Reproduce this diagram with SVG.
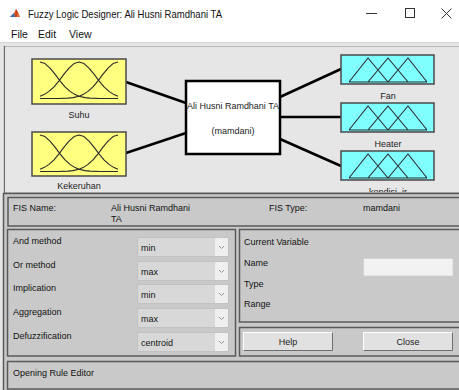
<svg xmlns="http://www.w3.org/2000/svg" width="459" height="390" viewBox="0 0 459 390">
  <style>
    .ui { font-family: "Liberation Sans", Arial, sans-serif; font-size: 9px; fill: #111; }
    .title { font-family: "Liberation Sans", Arial, sans-serif; font-size: 11px; fill: #111; }
    .menu { font-family: "Liberation Sans", Arial, sans-serif; font-size: 10.5px; fill: #111; }
    .lbl { font-family: "Liberation Sans", Arial, sans-serif; font-size: 9px; fill: #222; text-anchor: middle; }
    .inbox { fill: #ffff80; stroke: #4a4a4a; stroke-width: 1.5; }
    .outbox { fill: #80ffff; stroke: #4a4a4a; stroke-width: 1.5; }
    .mf { fill: none; stroke: #2a2a2a; stroke-width: 1.1; stroke-linejoin: round; }
    .wire { stroke: #000; stroke-width: 2.5; fill: none; }
    .frame { fill: none; stroke: #5a5a5a; stroke-width: 1.5; }
    .drop { fill: #d8d8d8; stroke: #c2c2c2; stroke-width: 1; }
    .dropbtn { fill: #efefef; }
    .chev { fill: none; stroke: #8a8a8a; stroke-width: 0.9; }
    .btn { fill: #e1e1e1; }
  </style>
  <defs>
    <!-- three gaussian membership functions on the range 40..118 -->
    <g id="gauss" class="mf">
      <polyline points="40,62 45,63.6 50,68.1 55,74.2 60,80.8 65,86.8 70,91.4 75,94.6 79,96.2 85,97.6 90,98.1 100,98.5 118,98.5"/>
      <polyline points="40,96.2 44,94.6 49,91.4 54,86.8 59,80.8 64,74.2 69,68.1 74,63.6 79,62 84,63.6 89,68.1 94,74.2 99,80.8 104,86.8 109,91.4 114,94.6 118,96.2"/>
      <polyline points="118,62 113,63.6 108,68.1 103,74.2 98,80.8 93,86.8 88,91.4 83,94.6 79,96.2 73,97.6 68,98.1 58,98.5 40,98.5"/>
    </g>
    <!-- three triangular membership functions -->
    <g id="tri" class="mf">
      <path d="M349,82 L368,58 L388,82 M368,82 L388,58 L408,82 M388,82 L408,58 L427,82 M349,82 H427"/>
    </g>
    <clipPath id="plotClip">
      <rect x="5" y="47" width="454" height="145"/>
    </clipPath>
  </defs>

  <!-- window background -->
  <rect x="0" y="0" width="459" height="390" fill="#ffffff"/>
  <rect x="0" y="42" width="459" height="348" fill="#e6e6e6"/>
  <line x1="0" y1="42.5" x2="459" y2="42.5" stroke="#d4d4d4" stroke-width="1"/>

  <!-- title bar -->
  <g id="titlebar">
    <g id="app-icon">
      <rect x="10" y="8" width="10" height="10" fill="#f3f6fa"/>
      <polygon points="10,17 14,13 16,9 18,12 20,17" fill="#e0672a"/>
      <polygon points="10,17 14,13 15,17" fill="#3b6fb6"/>
      <polygon points="16,9 17.5,12 16.5,17 15,17" fill="#c8401a"/>
    </g>
    <text class="title" x="28" y="18" textLength="194" lengthAdjust="spacingAndGlyphs">Fuzzy Logic Designer: Ali Husni Ramdhani TA</text>
    <line x1="366" y1="13.5" x2="377" y2="13.5" stroke="#333" stroke-width="1"/>
    <rect x="405.5" y="8.5" width="9" height="9" fill="none" stroke="#333" stroke-width="1"/>
    <path d="M441.5,8.5 L451.5,18.5 M451.5,8.5 L441.5,18.5" stroke="#333" stroke-width="1" fill="none"/>
  </g>

  <!-- menu bar -->
  <g id="menubar">
    <text class="menu" x="11" y="38">File</text>
    <text class="menu" x="38" y="38">Edit</text>
    <text class="menu" x="69" y="38">View</text>
  </g>

  <!-- system diagram area -->
  <rect x="4" y="46.5" width="460" height="146" fill="#e6e6e6" stroke="#b8b8b8" stroke-width="1"/>
  <line x1="4.5" y1="46" x2="4.5" y2="193" stroke="#6a6a6a" stroke-width="1"/>

  <g clip-path="url(#plotClip)">
    <g id="connectors">
      <line class="wire" x1="126" y1="82" x2="186" y2="103"/>
      <line class="wire" x1="126" y1="153" x2="186" y2="133"/>
      <line class="wire" x1="280" y1="97" x2="341" y2="69"/>
      <line class="wire" x1="280" y1="117" x2="341" y2="117"/>
      <line class="wire" x1="280" y1="139" x2="341" y2="166"/>
    </g>

    <g id="input-suhu">
      <rect class="inbox" x="32" y="59" width="94" height="45"/>
      <use href="#gauss"/>
      <text class="lbl" x="79" y="118">Suhu</text>
    </g>

    <g id="input-kekeruhan">
      <rect class="inbox" x="32" y="132" width="94" height="44"/>
      <use href="#gauss" transform="translate(0,73)"/>
      <text class="lbl" x="79" y="189">Kekeruhan</text>
    </g>

    <g id="fis-system">
      <rect x="186" y="81" width="94" height="73" fill="#ffffff" stroke="#000" stroke-width="2.5"/>
      <text class="lbl" x="233" y="109" fill="#111" textLength="92" lengthAdjust="spacingAndGlyphs">Ali Husni Ramdhani TA</text>
      <text class="lbl" x="233" y="134">(mamdani)</text>
    </g>

    <g id="output-fan">
      <rect class="outbox" x="341" y="55" width="93" height="29"/>
      <use href="#tri"/>
      <text class="lbl" x="388" y="98.5">Fan</text>
    </g>

    <g id="output-heater">
      <rect class="outbox" x="341" y="103" width="93" height="29"/>
      <use href="#tri" transform="translate(0,48)"/>
      <text class="lbl" x="388" y="146.5">Heater</text>
    </g>

    <g id="output-kondisi-ir">
      <rect class="outbox" x="341" y="151" width="93" height="29"/>
      <use href="#tri" transform="translate(0,96)"/>
      <text class="lbl" x="388" y="195">kondisi_ir</text>
    </g>
  </g>

  <!-- lower control area -->
  <rect x="3" y="193" width="460" height="200" fill="#c9c9c9"/>
  <path d="M3.5,390 V193.5 H459" fill="none" stroke="#5a5a5a" stroke-width="1.5"/>

  <g id="fis-info">
    <rect class="frame" x="8" y="197.5" width="460" height="28.5"/>
    <text class="ui" x="13" y="211">FIS Name:</text>
    <text class="ui" x="111" y="211">Ali Husni Ramdhani</text>
    <text class="ui" x="111" y="222">TA</text>
    <text class="ui" x="269" y="211">FIS Type:</text>
    <text class="ui" x="363" y="211">mamdani</text>
  </g>

  <g id="methods">
    <rect class="frame" x="7.5" y="229.5" width="228" height="126.5"/>
    <text class="ui" x="13" y="244">And method</text>
    <text class="ui" x="13" y="268">Or method</text>
    <text class="ui" x="13" y="291">Implication</text>
    <text class="ui" x="13" y="315">Aggregation</text>
    <text class="ui" x="13" y="339">Defuzzification</text>

    <g id="dd-and">
      <rect class="drop" x="137.5" y="237.5" width="91" height="19"/>
      <rect class="dropbtn" x="215" y="238" width="13" height="18"/>
      <path class="chev" d="M219,246 L221.5,248.5 L224,246"/>
      <text class="ui" x="141" y="251">min</text>
    </g>
    <g id="dd-or">
      <rect class="drop" x="137.5" y="261.5" width="91" height="19"/>
      <rect class="dropbtn" x="215" y="262" width="13" height="18"/>
      <path class="chev" d="M219,270 L221.5,272.5 L224,270"/>
      <text class="ui" x="141" y="275">max</text>
    </g>
    <g id="dd-imp">
      <rect class="drop" x="137.5" y="284.5" width="91" height="19"/>
      <rect class="dropbtn" x="215" y="285" width="13" height="18"/>
      <path class="chev" d="M219,293 L221.5,295.5 L224,293"/>
      <text class="ui" x="141" y="298">min</text>
    </g>
    <g id="dd-agg">
      <rect class="drop" x="137.5" y="308.5" width="91" height="19"/>
      <rect class="dropbtn" x="215" y="309" width="13" height="18"/>
      <path class="chev" d="M219,317 L221.5,319.5 L224,317"/>
      <text class="ui" x="141" y="322">max</text>
    </g>
    <g id="dd-defuzz">
      <rect class="drop" x="137.5" y="332.5" width="91" height="19"/>
      <rect class="dropbtn" x="215" y="333" width="13" height="18"/>
      <path class="chev" d="M219,341 L221.5,343.5 L224,341"/>
      <text class="ui" x="141" y="346">centroid</text>
    </g>
  </g>

  <g id="current-variable">
    <rect class="frame" x="239.5" y="229.5" width="225" height="92.5"/>
    <text class="ui" x="244" y="245">Current Variable</text>
    <text class="ui" x="244" y="266">Name</text>
    <text class="ui" x="244" y="287">Type</text>
    <text class="ui" x="244" y="307">Range</text>
    <rect x="363.5" y="258.5" width="89.5" height="17.5" fill="#f2f2f2" stroke="#d2d2d2" stroke-width="1"/>
  </g>

  <g id="buttons">
    <rect class="frame" x="239.5" y="327.5" width="225" height="28.5"/>
    <g id="btn-help">
      <rect class="btn" x="243" y="332" width="90" height="19"/>
      <path d="M243.5,350.5 V332.5 H332.5" fill="none" stroke="#ffffff" stroke-width="1"/>
      <path d="M243.5,350.5 H332.5 V332.5" fill="none" stroke="#6e6e6e" stroke-width="1"/>
      <text class="lbl" x="288" y="345" fill="#111">Help</text>
    </g>
    <g id="btn-close">
      <rect class="btn" x="363" y="332" width="90" height="19"/>
      <path d="M363.5,350.5 V332.5 H452.5" fill="none" stroke="#ffffff" stroke-width="1"/>
      <path d="M363.5,350.5 H452.5 V332.5" fill="none" stroke="#6e6e6e" stroke-width="1"/>
      <text class="lbl" x="408" y="345" fill="#111">Close</text>
    </g>
  </g>

  <g id="status">
    <rect class="frame" x="7.5" y="361.5" width="460" height="27.5"/>
    <text class="ui" x="13" y="376">Opening Rule Editor</text>
  </g>
</svg>
